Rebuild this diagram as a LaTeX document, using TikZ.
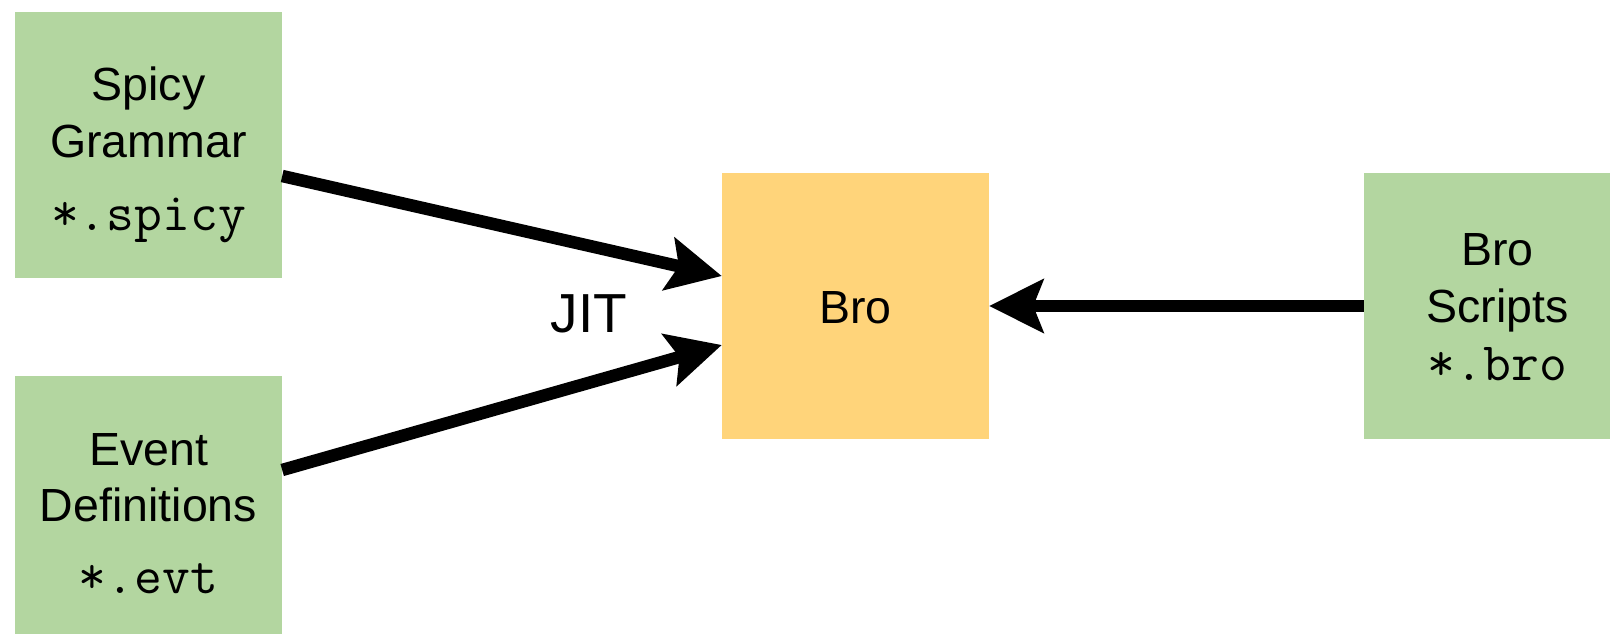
\documentclass[tikz,border=0pt]{standalone}
\usepackage{fontspec}
\setmainfont{Liberation Sans}
\usetikzlibrary{arrows.meta}
\definecolor{srcgreen}{HTML}{B3D6A0}
\definecolor{coreorange}{HTML}{FFD47A}
\tikzset{
  srcbox/.style={inner sep=0, minimum width=267pt, minimum height=266pt, fill=srcgreen},
  corebox/.style={inner sep=0, minimum width=267pt, minimum height=266pt, fill=coreorange},
  lbl/.style={anchor=base, inner sep=0, font=\fontsize{46.5}{56}\selectfont},
  code/.style={anchor=base, inner sep=0, font=\fontsize{54}{62}\selectfont\ttfamily},
  jit/.style={anchor=base, inner sep=0, font=\fontsize{55}{66}\selectfont},
  flow/.style={line width=12.5pt, -{Stealth[length=54pt,width=53pt,inset=10pt]}},
}
\begin{document}
\begin{tikzpicture}[x=1pt,y=-1pt]
  \useasboundingbox (0,0) rectangle (1610,634);
  \clip (0,0) rectangle (1610,634);

  % boxes
  \node[srcbox]  (spicy)   at (148.5,145) {};
  \node[srcbox]  (event)   at (148.5,509) {};
  \node[corebox] (bro)     at (855.5,306) {};
  \node[srcbox]  (scripts) at (1497.5,306) {};

  % box texts
  \node[lbl]  (spicyA) at (148.5,100) {Spicy};
  \node[lbl]  (spicyB) at (148.5,157) {Grammar};
  \node[code] (spicyC) at (148.5,230) {*.spicy};

  \node[lbl]  (eventA) at (148.5,465) {Event};
  \node[lbl]  (eventB) at (148.5,521) {Definitions};
  \node[code] (eventC) at (148.5,593) {*.evt};

  \node[lbl]  (broA)   at (855.5,323) {Bro};

  \node[lbl]  (scrA)   at (1497.5,265) {Bro};
  \node[lbl]  (scrB)   at (1497.5,322) {Scripts};
  \node[code] (scrC)   at (1497.5,380) {*.bro};

  \node[jit]  (jitlbl) at (589,332) {JIT};

  % connectors
  \draw[flow] ([yshift=-31pt]spicy.east) -- ([yshift=30pt]bro.west);
  \draw[flow] ([yshift=39pt]event.east) -- ([yshift=-39pt]bro.west);
  \draw[flow] (scripts.west) -- (bro.east);
\end{tikzpicture}
\end{document}
